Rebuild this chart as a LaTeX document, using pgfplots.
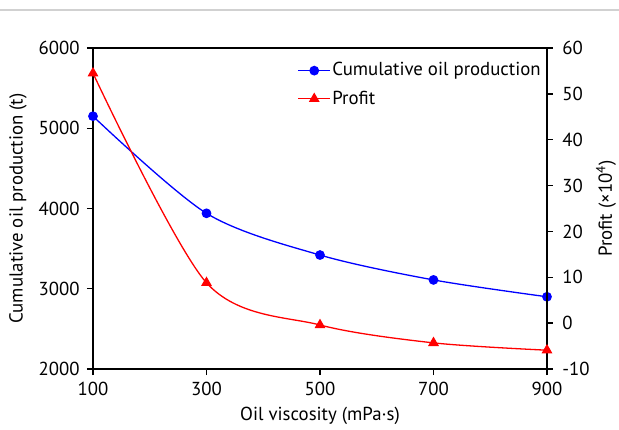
\documentclass[border=0pt]{standalone}
\usepackage{pgfplots}
\pgfplotsset{compat=1.18}
\usepackage{fontspec}
\setmainfont{PT Sans}
\newcommand{\ff}{\fontsize{18.8}{22}\selectfont}
\begin{document}
\ff
\begin{tikzpicture}
\path[use as bounding box] (-93pt,-60pt) rectangle (526pt,369pt);
\draw[black!18, line width=1.5pt] (-93pt,359pt) -- (526pt,359pt);
\begin{axis}[
  at={(0pt,0pt)}, anchor=south west,
  scale only axis, width=454pt, height=321pt,
  xmin=100, xmax=900, ymin=2000, ymax=6000,
  xtick={100,300,500,700,900},
  ytick={2000,3000,4000,5000,6000},
  tick align=outside, xtick pos=bottom, ytick pos=left,
  major tick length=6pt,
  axis line style={line width=1.4pt},
  every tick/.style={black, line width=1.4pt},
  /pgf/number format/assume math mode=true,
  /pgf/number format/1000 sep={},
  tick label style={font=\ff},
  xticklabel style={yshift=-1pt},
  yticklabel style={xshift=-1pt},
  xlabel={Oil viscosity (mPa·s)},
  ylabel={Cumulative oil production (t)},
  label style={font=\ff},
  xlabel style={at={(axis description cs:0.5,-0.145)}, anchor=center},
  ylabel style={at={(axis description cs:-0.165,0.5)}, anchor=center, rotate=0},
]
\addplot[blue, line width=1.3pt, smooth, mark=*, mark size=4.2pt, mark options={solid, fill=blue}]
  coordinates {(100,5150) (300,3940) (500,3420) (700,3110) (900,2900)};
\end{axis}
\begin{axis}[
  at={(0pt,0pt)}, anchor=south west,
  scale only axis, width=454pt, height=321pt,
  xmin=100, xmax=900, ymin=-10, ymax=60,
  axis x line=none, axis y line*=right,
  ytick={-10,0,...,60},
  tick align=outside, ytick pos=right,
  major tick length=6pt,
  axis line style={line width=1.4pt},
  every tick/.style={black, line width=1.4pt},
  /pgf/number format/assume math mode=true,
  tick label style={font=\ff},
  yticklabel style={xshift=3pt},
  ylabel={Profit (×10\textsuperscript{4})},
  label style={font=\ff},
  ylabel style={at={(axis description cs:1.13,0.5)}, anchor=center, rotate=0},
  legend style={draw=none, fill=none, at={(0.99,0.96)}, anchor=north east,
    font=\ff, row sep=9pt, inner sep=0pt,
    nodes={inner sep=1.5pt}},
  legend cell align=left,
  legend image code/.code={%
    \draw[mark repeat=2,mark phase=2] plot coordinates {(0pt,0pt) (16pt,0pt) (32pt,0pt)};},
]
\addlegendimage{blue, line width=1.3pt, mark=*, mark size=4.2pt, mark options={solid, fill=blue}}
\addlegendentry{Cumulative oil production}
\addplot[red, line width=1.3pt, smooth, mark=triangle*, mark size=5pt, mark options={solid, fill=red}]
  coordinates {(100,54.5) (300,8.8) (500,-0.4) (700,-4.3) (900,-5.9)};
\addlegendentry{Profit}
\end{axis}
\end{tikzpicture}
\end{document}
